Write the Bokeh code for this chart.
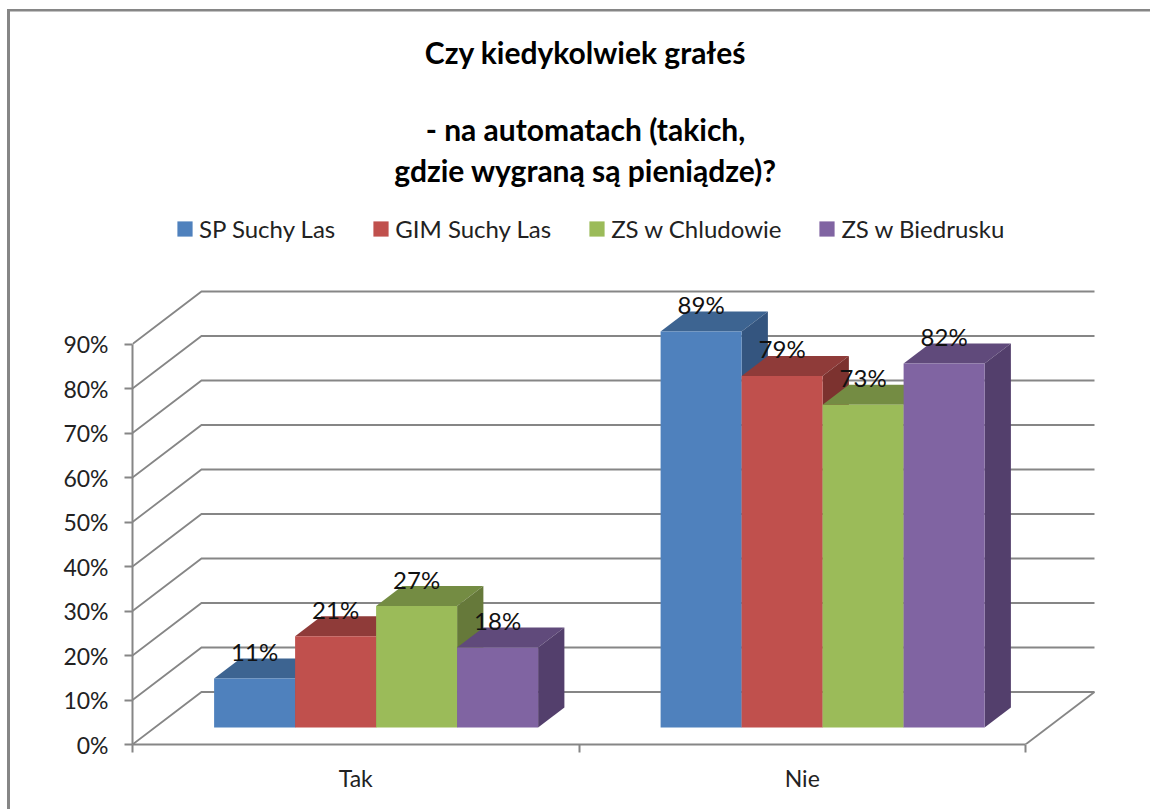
from bokeh.plotting import figure
from bokeh.embed import file_html
from bokeh.resources import INLINE
from bokeh.models import (Range1d, FixedTicker, Label, Legend, LegendItem)
from bokeh.core.properties import value

# ---------- data ----------
categories = ["Tak", "Nie"]
series_names = ["SP Suchy Las", "GIM Suchy Las", "ZS w Chludowie", "ZS w Biedrusku"]
# bar heights (the labels below are the printed, rounded values)
sp_suchy_las = [11, 89]
gim_suchy_las = [20.5, 79]
zs_chludowo = [27.3, 72.5]
zs_biedrusko = [18, 81.8]
sp_suchy_las_labels = ["11%", "89%"]
gim_suchy_las_labels = ["21%", "79%"]
zs_chludowo_labels = ["27%", "73%"]
zs_biedrusko_labels = ["18%", "82%"]
y_ticks = [0, 10, 20, 30, 40, 50, 60, 70, 80, 90]
title_lines = ["Czy kiedykolwiek grałeś", "- na automatach (takich,", "gdzie wygraną są pieniądze)?"]

all_values = [sp_suchy_las, gim_suchy_las, zs_chludowo, zs_biedrusko]
all_labels = [sp_suchy_las_labels, gim_suchy_las_labels, zs_chludowo_labels, zs_biedrusko_labels]

# ---------- styles ----------
FONT = "Lato"
front = ["#4F81BD", "#C0504D", "#9BBB59", "#8064A2"]
top = ["#3D6491", "#8F3B39", "#748C43", "#604A7B"]
side = ["#34557F", "#7C322F", "#66793A", "#533F6C"]
GRID = "#868686"

W, H = 1150, 809
LEFT, BOTTOM = 132, 65
PX_X = 446.5        # pixels per category
PX_Y = 4.45         # pixels per percent
DEPTH_X, DEPTH_Y = 69.0, 52.5   # pixels of full chart depth
BAR_W = 81 / PX_X
Z_FRONT, Z_BACK = 0.324, 0.705


def proj(x, y, z):
    """category/percent/depth -> data coordinates of the oblique projection"""
    return x + z * DEPTH_X / PX_X, y + z * DEPTH_Y / PX_Y


# the chart's own border (left and top edge) lies outside the plot frame
border_css = (f"linear-gradient({GRID},{GRID}) 7px 9px / 3px 100% no-repeat, "
              f"linear-gradient({GRID},{GRID}) 7px 9px / 100% 2.5px no-repeat, white")

p = figure(width=W, height=H, output_backend="svg", toolbar_location=None,
           x_range=Range1d(0, (W - LEFT) / PX_X),
           y_range=Range1d(0, (H - BOTTOM) / PX_Y),
           min_border_left=LEFT, min_border_bottom=BOTTOM, min_border_right=0, min_border_top=0,
           border_fill_color=None, background_fill_color=None,
           styles={"background": border_css})
p.grid.visible = False
p.outline_line_color = None

# ---------- walls / gridlines ----------
n_cat = len(categories)
gx, gy = [], []
for t in y_ticks:
    x1, y1 = proj(0, t, 0)
    x2, y2 = proj(0, t, 1)
    x3, y3 = proj(n_cat, t, 1)
    gx.append([x1, x2, x3])
    gy.append([y1, y2, y3])
p.multi_line(gx, gy, line_color=GRID, line_width=1.8, line_join="miter")
fx0, fy0 = proj(n_cat, 0, 0)
fx1, fy1 = proj(n_cat, 0, 1)
p.line([fx0, fx1], [fy0, fy1], line_color=GRID, line_width=1.8)

# ---------- bars ----------
group_left = (1 - BAR_W * len(all_values)) / 2 - 2 / PX_X
legend_items = []
label_x, label_y, label_t = [], [], []
for s, vals in enumerate(all_values):
    top_x, top_y, side_x, side_y = [], [], [], []
    fl, fr, fb, ft = [], [], [], []
    for c, v in enumerate(vals):
        x0 = c + group_left + s * BAR_W
        x1 = x0 + BAR_W
        pts = [proj(x0, v, Z_FRONT), proj(x1, v, Z_FRONT), proj(x1, v, Z_BACK), proj(x0, v, Z_BACK)]
        top_x.append([a for a, _ in pts])
        top_y.append([b for _, b in pts])
        pts = [proj(x1, 0, Z_FRONT), proj(x1, v, Z_FRONT), proj(x1, v, Z_BACK), proj(x1, 0, Z_BACK)]
        side_x.append([a for a, _ in pts])
        side_y.append([b for _, b in pts])
        a0, b0 = proj(x0, 0, Z_FRONT)
        a1, b1 = proj(x1, v, Z_FRONT)
        fl.append(a0); fr.append(a1); fb.append(b0); ft.append(b1)
        label_x.append((a0 + a1) / 2)
        label_y.append(b1)
        label_t.append(all_labels[s][c])
    p.patches(top_x, top_y, fill_color=top[s], line_color=None)
    p.patches(side_x, side_y, fill_color=side[s], line_color=None)
    r = p.quad(left=fl, right=fr, bottom=fb, top=ft, fill_color=front[s], line_color=None)
    legend_items.append(LegendItem(label=series_names[s], renderers=[r]))

p.text(label_x, label_y, text=label_t, text_font=value(FONT), text_font_size="24px",
       text_color="#111111", text_align="center", text_baseline="middle", y_offset=-27)

# ---------- axes ----------
ya = p.yaxis[0]
ya.ticker = FixedTicker(ticks=y_ticks)
ya.major_label_overrides = {t: f"{t}%" for t in y_ticks}
ya.bounds = (0, 90)
ya.axis_line_color = GRID
ya.axis_line_width = 2
ya.major_tick_line_color = GRID
ya.major_tick_line_width = 2
ya.major_tick_out = 8
ya.major_tick_in = 0
ya.minor_tick_out = 0
ya.minor_tick_in = 0
ya.major_label_standoff = 16
ya.major_label_text_font = FONT
ya.major_label_text_font_size = "23px"
ya.major_label_text_color = "#222222"

xa = p.xaxis[0]
xa.ticker = FixedTicker(ticks=[c + 0.5 for c in range(n_cat)], minor_ticks=list(range(n_cat + 1)))
xa.major_label_overrides = {c + 0.5: name for c, name in enumerate(categories)}
xa.bounds = (0, n_cat)
xa.axis_line_color = GRID
xa.axis_line_width = 2
xa.major_tick_out = 0
xa.major_tick_in = 0
xa.minor_tick_line_color = GRID
xa.minor_tick_line_width = 2
xa.minor_tick_out = 8
xa.minor_tick_in = 0
xa.major_label_standoff = 11
xa.major_label_text_font = FONT
xa.major_label_text_font_size = "23px"
xa.major_label_text_color = "#222222"

# ---------- legend ----------
legend = Legend(items=legend_items, orientation="horizontal", location=(43, 501),
                border_line_color=None, background_fill_alpha=0, padding=0, margin=0,
                spacing=36, glyph_width=19, glyph_height=19, label_standoff=5,
                label_text_font=FONT, label_text_font_size="24px", label_text_color="#222222")
p.add_layout(legend)

# ---------- title ----------
for text, py in zip(title_lines, [51, 128, 169]):
    p.add_layout(Label(x=(585 - 132) / PX_X, y=(744 - py) / PX_Y, text=text,
                       text_font=FONT, text_font_style="bold", text_font_size="30px",
                       text_color="#000000", text_align="center", text_baseline="middle"))

open("out.html", "w").write(file_html(p, INLINE))
